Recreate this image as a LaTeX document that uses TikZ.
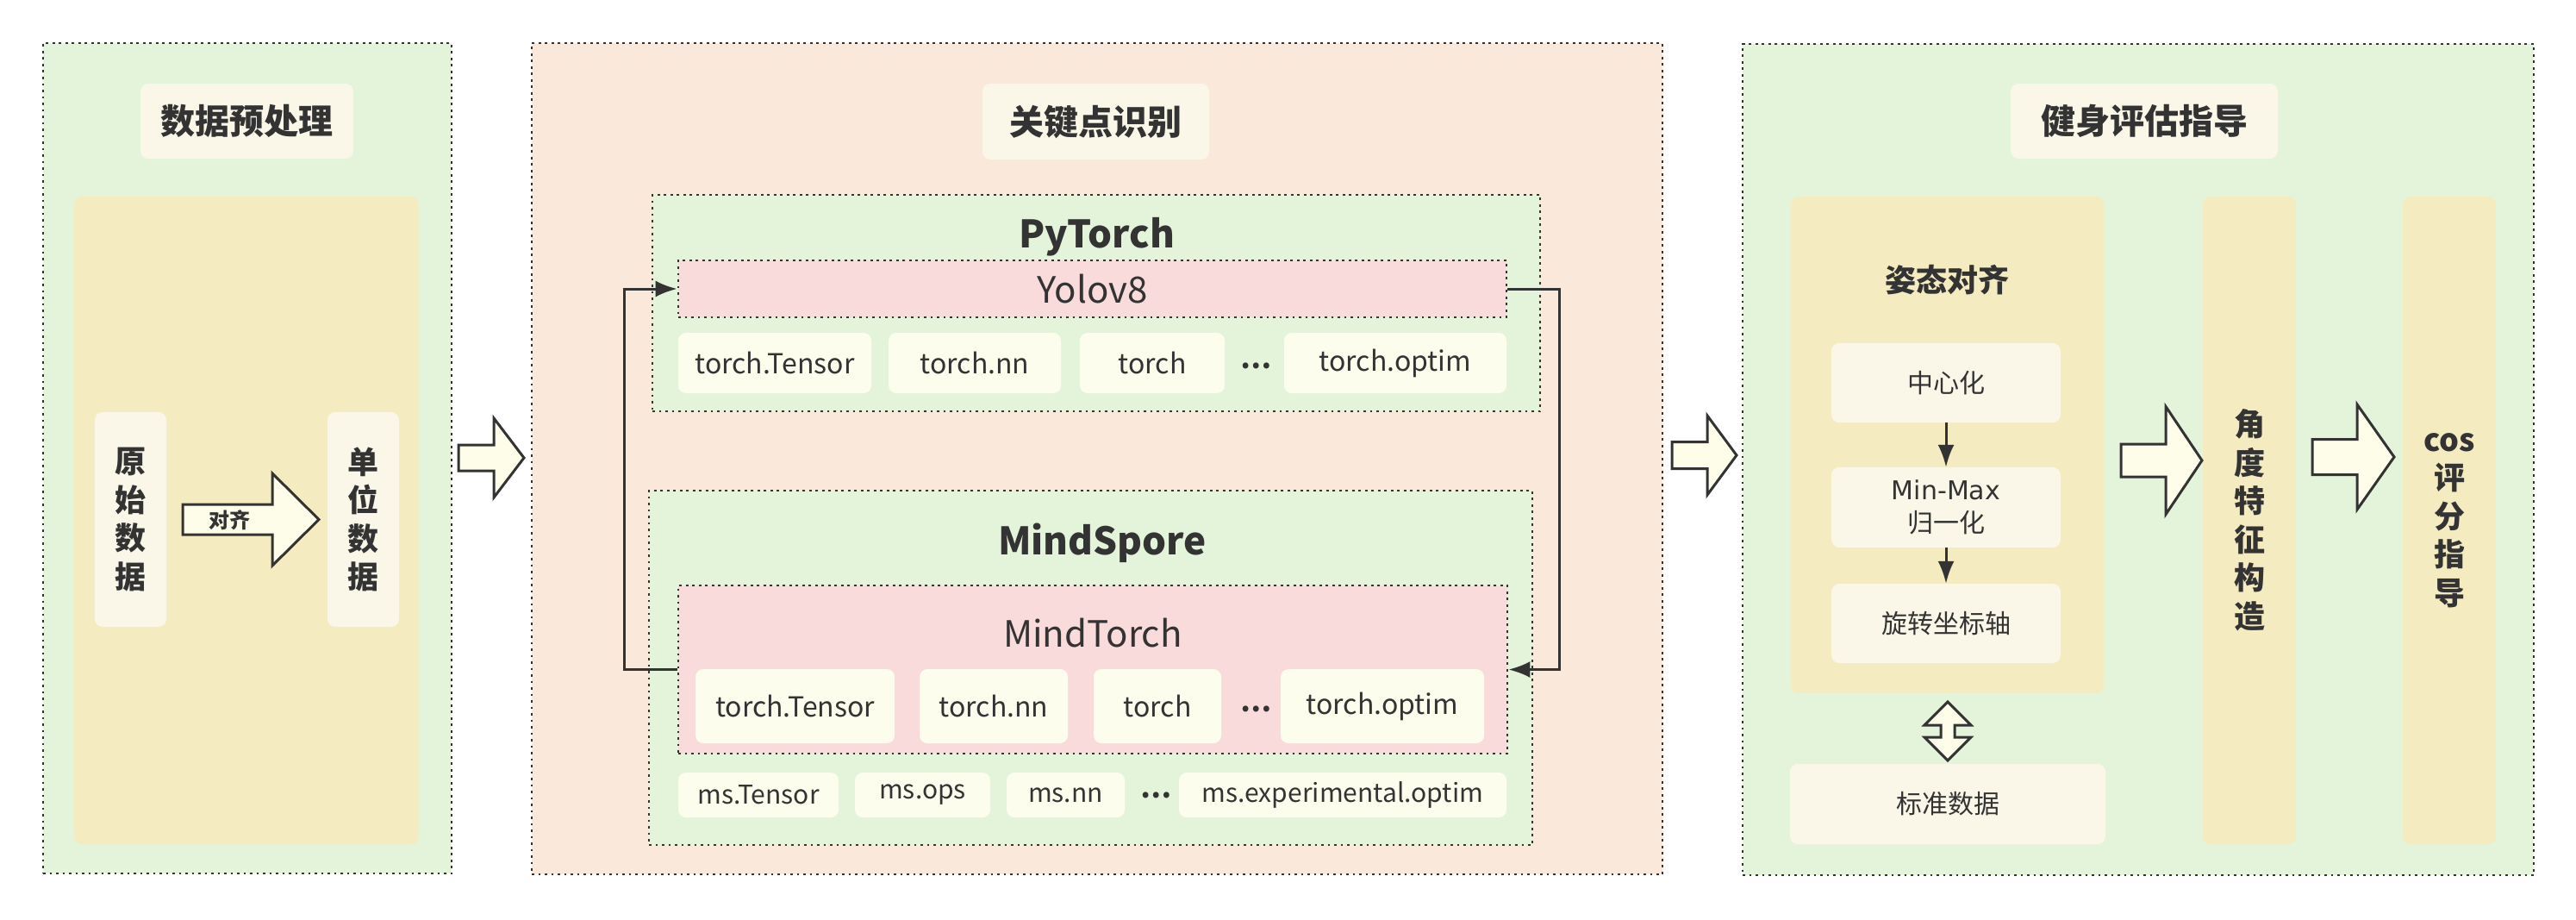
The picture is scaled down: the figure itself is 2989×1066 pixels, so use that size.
\documentclass[tikz,border=0pt]{standalone}
\usepackage{fontspec}
\setmainfont{Noto Sans CJK SC}
\newfontfamily\dejavu{DejaVu Sans}
\usetikzlibrary{arrows.meta}
\definecolor{pgreen}{HTML}{E3F4DA}
\definecolor{ppeach}{HTML}{FAE9DA}
\definecolor{pcream}{HTML}{FAF7E8}
\definecolor{pyellow}{HTML}{F5EBC0}
\definecolor{ppink}{HTML}{F9DBDB}
\definecolor{pwhite}{HTML}{FDFDEE}
\definecolor{parrow}{HTML}{FDFDEA}
\definecolor{pdark}{HTML}{333333}
\newcommand\rbox[7]{\node[inner sep=0pt, minimum width={(#4)-(#2)}, minimum height={(#5)-(#3)}, #6] (#1) at ({((#2)+(#4))/2},{((#3)+(#5))/2}) {#7};}
\newcommand\blockarr[6]{\draw[blockstyle] ({#1},{#4-#5}) -- ({#2},{#4-#5}) -- ({#2},{#4-#6}) -- ({#3},{#4}) -- ({#2},{#4+#6}) -- ({#2},{#4+#5}) -- ({#1},{#4+#5}) -- cycle;}
\tikzset{
  dotborder/.style={draw=pdark, line width=2.7pt, dash pattern=on 2.7pt off 4.8pt},
  creambox/.style={fill=pcream, rounded corners=9pt},
  yellowbox/.style={fill=pyellow, rounded corners=9pt},
  smallbox/.style={fill=pwhite, rounded corners=9pt, font=\fontsize{32}{38}\selectfont},
  msbox/.style={fill=pwhite, rounded corners=9pt, font=\fontsize{30}{36}\selectfont},
  ellip/.style={anchor=base, font=\bfseries\fontsize{32}{38}\selectfont},
  titlefont/.style={font=\bfseries\fontsize{40}{48}\selectfont},
  vtext/.style={font=\bfseries\fontsize{36}{44.5}\selectfont, align=center},
  frametitle/.style={font=\bfseries\fontsize{44}{52}\selectfont},
  midtitle/.style={font=\fontsize{42}{50}\selectfont},
  plain/.style={font=\fontsize{30}{38}\selectfont, align=center},
  blockstyle/.style={draw=pdark, fill=parrow, line width=3pt, line join=miter},
  conn/.style={draw=pdark, line width=3pt, -{Latex[length=25pt,width=19pt]}},
  sconn/.style={draw=pdark, line width=3pt, -{Latex[length=26pt,width=19pt]}},
}
\begin{document}
\begin{tikzpicture}[x=1pt,y=-1pt, every node/.append style={text=pdark}]
\useasboundingbox (0,0) rectangle (2989,1066);
% panels
\rbox{p1}{50}{50}{524}{1013}{fill=pgreen, dotborder}{}
\rbox{p2}{617}{50}{1929}{1014}{fill=ppeach, dotborder}{}
\rbox{p3}{2022}{51}{2940}{1015}{fill=pgreen, dotborder}{}
% titles
\rbox{t1}{163}{97}{410}{184}{creambox, titlefont}{数据预处理}
\rbox{t2}{1140}{97}{1403}{185}{creambox, titlefont}{关键点识别}
\rbox{t3}{2333}{97}{2643}{184}{creambox, titlefont}{健身评估指导}
% left panel
\rbox{y1}{86}{228}{486}{979}{yellowbox}{}
\rbox{raw}{110}{478}{193}{727}{creambox, vtext}{原\\始\\数\\据}
\rbox{unit}{380}{478}{463}{727}{creambox, vtext}{单\\位\\数\\据}
\blockarr{212}{316}{370}{602.5}{17.5}{53.5}
\node[font=\bfseries\fontsize{24}{28}\selectfont] (alignlbl) at (266,603) {对齐};
% arrows between panels
\blockarr{532}{573}{608}{531}{15}{46}
\blockarr{1940}{1981}{2015}{528}{15.5}{46}
% middle panel: PyTorch
\rbox{pt}{757}{226}{1787}{477}{fill=pgreen, dotborder}{}
\node[frametitle] (ptl) at (1273,275) {PyTorch};
\rbox{yolo}{787}{302}{1748}{368}{fill=ppink, dotborder, midtitle}{Yolov8}
\rbox{a1}{787}{386}{1011}{456}{smallbox}{torch.Tensor}
\rbox{a2}{1031}{386}{1231}{456}{smallbox}{torch.nn}
\rbox{a3}{1253}{386}{1421}{456}{smallbox}{torch}
\node[ellip] (ad) at (1457,427) {…};
\rbox{a4}{1490}{386}{1748}{456}{smallbox}{torch.optim}
% MindSpore
\rbox{ms}{753}{569}{1778}{980}{fill=pgreen, dotborder}{}
\node[frametitle] (msl) at (1279,630) {MindSpore};
\rbox{mt}{787}{679}{1749}{874}{fill=ppink, dotborder}{}
\node[midtitle] (mtl) at (1268,734) {MindTorch};
\rbox{b1}{807}{776}{1038}{862}{smallbox}{torch.Tensor}
\rbox{b2}{1067}{776}{1239}{862}{smallbox}{torch.nn}
\rbox{b3}{1269}{776}{1417}{862}{smallbox}{torch}
\node[ellip] (bd) at (1457,825) {…};
\rbox{b4}{1486}{776}{1722}{862}{smallbox}{torch.optim}
\rbox{c1}{787}{896}{973}{948}{msbox}{ms.Tensor}
\rbox{c2}{992}{896}{1149}{948}{msbox}{ms.ops}
\rbox{c3}{1168}{896}{1305}{948}{msbox}{ms.nn}
\node[ellip] (cd) at (1341,925) {…};
\rbox{c4}{1368}{896}{1748}{948}{msbox}{ms.experimental.optim}
% connectors
\draw[conn] (mt.west) -- ++(-61,0) |- (yolo.west);
\draw[conn] (yolo.east) -- ++(60,0) |- (mt.east);
% right panel
\rbox{al}{2078}{228}{2441}{804}{yellowbox}{}
\node[font=\bfseries\fontsize{36}{44}\selectfont] (all) at (2259,325) {姿态对齐};
\rbox{s1}{2125}{398}{2391}{490}{creambox, plain}{中心化}
\rbox{s2}{2125}{542}{2391}{635}{creambox, plain}{{\dejavu Min-Max}\\归一化}
\rbox{s3}{2125}{677}{2391}{769}{creambox, plain}{旋转坐标轴}
\draw[sconn] (s1.south) -- (s2.north);
\draw[sconn] (s2.south) -- (s3.north);
\rbox{std}{2077}{886}{2443}{979}{creambox, plain}{标准数据}
\draw[blockstyle] (2260,814) -- (2287,841) -- (2268,841) -- (2268,855) -- (2287,855) -- (2260,882) -- (2233,855) -- (2252,855) -- (2252,841) -- (2233,841) -- cycle;
\rbox{ang}{2556}{228}{2664}{979}{yellowbox, vtext}{角\\度\\特\\征\\构\\造}
\rbox{cos}{2788}{228}{2896}{979}{yellowbox, vtext}{cos\\评\\分\\指\\导}
\blockarr{2461}{2513}{2555}{534}{19}{62.5}
\blockarr{2683}{2735}{2778}{530}{20.5}{61}
\end{tikzpicture}
\end{document}
